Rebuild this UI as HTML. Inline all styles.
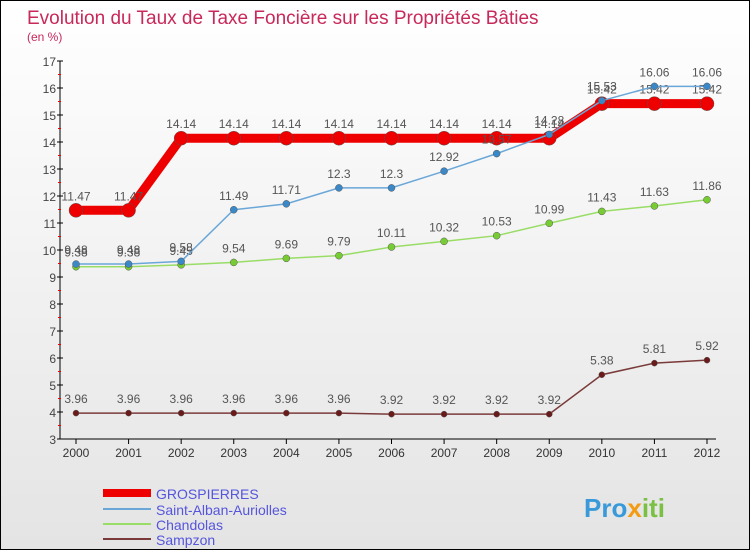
<!DOCTYPE html>
<html><head><meta charset="utf-8"><style>
body{margin:0}
#c{width:750px;height:550px;box-sizing:border-box;border:1px solid #000;background:linear-gradient(#fff,#e4e4e4);position:relative;font-family:"Liberation Sans",sans-serif;overflow:hidden}
</style></head><body>
<div id="c">
<svg id="s" width="750" height="550" style="position:absolute;left:0;top:0">
<text x="26" y="23" font-size="19" fill="#c8285a">Evolution du Taux de Taxe Foncière sur les Propriétés Bâties</text>
<text x="26" y="40" font-size="12" fill="#c8285a">(en %)</text>
<g id="ax"></g><g id="ser"></g>
<g>
<line x1="102" y1="492" x2="150" y2="492" stroke="#e00" stroke-width="8"/>
<text x="155" y="498" font-size="14" fill="#5555dd">GROSPIERRES</text>
<line x1="102" y1="508" x2="150" y2="508" stroke="#6aa7d8" stroke-width="2"/>
<text x="155" y="514" font-size="14" fill="#5555dd">Saint-Alban-Auriolles</text>
<line x1="102" y1="523" x2="150" y2="523" stroke="#99dd66" stroke-width="2"/>
<text x="155" y="529" font-size="14" fill="#5555dd">Chandolas</text>
<line x1="102" y1="538" x2="150" y2="538" stroke="#7a3a3a" stroke-width="2"/>
<text x="155" y="544" font-size="14" fill="#5555dd">Sampzon</text>
</g>
<text x="583" y="516" font-size="26" font-weight="bold" fill="#3a9ad9">Pro<tspan fill="#f39c12">x</tspan><tspan fill="#7ac143">iti</tspan></text>
</svg>
</div>
<script>
const years=[2000,2001,2002,2003,2004,2005,2006,2007,2008,2009,2010,2011,2012];
const grospierres=[11.47,11.47,14.14,14.14,14.14,14.14,14.14,14.14,14.14,14.14,15.42,15.42,15.42];
const saintAlban=[9.48,9.48,9.58,11.49,11.71,12.3,12.3,12.92,13.57,14.28,15.53,16.06,16.06];
const chandolas=[9.38,9.38,9.45,9.54,9.69,9.79,10.11,10.32,10.53,10.99,11.43,11.63,11.86];
const sampzon=[3.96,3.96,3.96,3.96,3.96,3.96,3.92,3.92,3.92,3.92,5.38,5.81,5.92];
const yTicks=[3,4,5,6,7,8,9,10,11,12,13,14,15,16,17];
const NS='http://www.w3.org/2000/svg';
const X=i=>75+i*(631/12), Y=v=>60+(17-v)*27;
function mk(t,a,p){const e=document.createElementNS(NS,t);for(const k in a)e.setAttribute(k,a[k]);p.appendChild(e);return e;}
const ax=document.getElementById('ax'),ser=document.getElementById('ser');
let l=mk('line',{x1:59,y1:Y(17),x2:59,y2:Y(3),stroke:'#000'},ax);


l=mk('line',{x1:59,y1:Y(3),x2:715,y2:Y(3),stroke:'#000'},ax);


yTicks.forEach(v=>{mk('line',{x1:56,y1:Y(v),x2:62,y2:Y(v),stroke:'#000'},ax);
 if(v<17)mk('line',{x1:57,y1:Y(v+0.5),x2:60,y2:Y(v+0.5),stroke:'#e00'},ax);
 const t=mk('text',{x:55,y:Y(v)+5,'font-size':12,fill:'#444','text-anchor':'end'},ax);t.textContent=v;
 
 });
years.forEach((y,i)=>{mk('line',{x1:X(i),y1:Y(3),x2:X(i),y2:Y(3)+5,stroke:'#000'},ax);
 const t=mk('text',{x:X(i),y:Y(3)+18,'font-size':12,fill:'#333','text-anchor':'middle'},ax);t.textContent=y;
 
 });
function series(d,col,w,r,fill,name){
 const p=mk('polyline',{points:d.map((v,i)=>X(i)+','+Y(v)).join(' '),fill:'none',stroke:col,'stroke-width':w},ser);
 
 
 d.forEach((v,i)=>{const c=mk('circle',{cx:X(i),cy:Y(v),r:r,fill:fill,stroke:'#555','stroke-width':0.5},ser);
  
  
  const t=mk('text',{x:X(i),y:Y(v)-10,'font-size':12,fill:'#555','text-anchor':'middle'},ser);t.textContent=v;
  
  });
}
series(sampzon,'#7a3a3a',1.5,3,'#6b1a1a','sampzon');
series(chandolas,'#99dd66',1.5,3.5,'#77cc33','chandolas');
series(grospierres,'#e00',9,7,'#e00','grospierres');
series(saintAlban,'#6aa7d8',1.5,3.5,'#3a88c8','saint-alban');
</script>
</body></html>
